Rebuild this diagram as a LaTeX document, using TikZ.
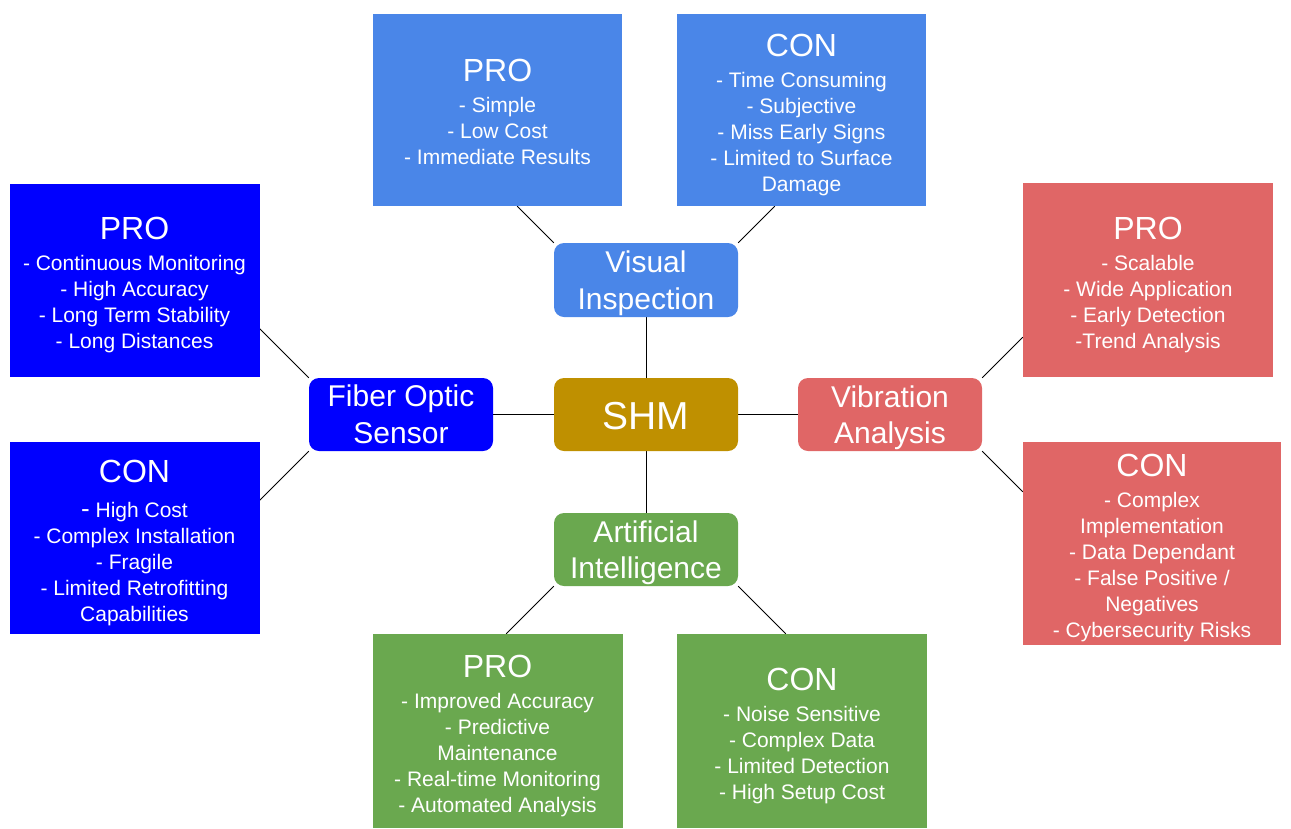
\documentclass[tikz,border=0pt]{standalone}
\usepackage{fontspec}
\setmainfont{Liberation Sans}
\usetikzlibrary{calc,backgrounds}
\definecolor{visblue}{HTML}{4A86E8}
\definecolor{fibblue}{HTML}{0000FF}
\definecolor{vibred}{HTML}{E06666}
\definecolor{aigreen}{HTML}{6AA84F}
\definecolor{shmgold}{HTML}{BF9000}
\newcommand\ttl[2][32pt]{{\fontsize{32}{32}\selectfont\rule{0pt}{#1}#2}}
\newcommand\hs{\rule{0pt}{28pt}}
\tikzset{
  box/.style={rectangle, inner sep=0pt, text=white, align=center,
    font=\fontsize{21}{26}\selectfont},
  hub/.style={rectangle, rounded corners=10pt, inner sep=0pt, text=white,
    align=center, minimum width=184pt, minimum height=73pt,
    font=\fontsize{30}{36.5}\selectfont},
  link/.style={draw=black, line width=0.8pt}
}
\begin{document}
\begin{tikzpicture}[x=1pt,y=-1pt]
\useasboundingbox (0,0) rectangle (1291,828);
% hubs
\node[hub, fill=shmgold, font=\fontsize{39}{39}\selectfont] (shm) at (646,414.5) {\rule{0pt}{30pt}SHM};
\node[hub, fill=visblue, minimum height=74pt] (vis) at (646,280) {\hs Visual\\Inspection};
\node[hub, fill=fibblue] (fos) at (401,414.5) {Fiber Optic\\Sensor};
\node[hub, fill=vibred] (vib) at (890,414.5) {\hs Vibration\\Analysis};
\node[hub, fill=aigreen] (ai) at (646,549.5) {\hs Artificial\\Intelligence};
% boxes
\node[box, fill=visblue, minimum width=249pt, minimum height=192pt] (vpro) at (497.5,110)
  {\ttl[26pt]{PRO}\\[4.5pt] - Simple\\ - Low Cost\\ - Immediate Results};
\node[box, fill=visblue, minimum width=249pt, minimum height=192pt] (vcon) at (801.5,110)
  {\ttl{CON}\\[4.5pt] - Time Consuming\\ - Subjective\\ - Miss Early Signs\\ - Limited to Surface\\ Damage};
\node[box, fill=fibblue, minimum width=250pt, minimum height=193pt] (fpro) at (134.5,280)
  {\ttl{PRO}\\[4.5pt] - Continuous Monitoring\\ - High Accuracy\\ - Long Term Stability\\ - Long Distances};
\node[box, fill=fibblue, minimum width=250pt, minimum height=192pt] (fcon) at (134.5,538)
  {\ttl{CON}\\[9pt] {\fontsize{26}{26}\selectfont -} High Cost\\ - Complex Installation\\ - Fragile\\ - Limited Retrofitting\\ Capabilities};
\node[box, fill=vibred, minimum width=250pt, minimum height=194pt] (bpro) at (1148,280)
  {\ttl{PRO}\\[4.5pt] - Scalable\\ - Wide Application\\ - Early Detection\\ -Trend Analysis};
\node[box, fill=vibred, minimum width=258pt, minimum height=203pt] (bcon) at (1152,543)
  {\ttl{CON}\\[4.5pt] - Complex\\ Implementation\\ - Data Dependant\\ - False Positive /\\ Negatives\\ - Cybersecurity Risks};
\node[box, fill=aigreen, minimum width=250pt, minimum height=194pt] (apro) at (497.5,731)
  {\ttl{PRO}\\[4.5pt] - Improved Accuracy\\ - Predictive\\ Maintenance\\ - Real-time Monitoring\\ - Automated Analysis};
\node[box, fill=aigreen, minimum width=250pt, minimum height=194pt] (acon) at (802,731)
  {\ttl{CON}\\[4.5pt] - Noise Sensitive\\ - Complex Data\\ - Limited Detection\\ - High Setup Cost};
% connectors
\begin{scope}[on background layer]
\draw[link] (vis.south) -- (shm.north);
\draw[link] (shm.south) -- (ai.north);
\draw[link] (fos.east) -- (shm.west);
\draw[link] (shm.east) -- (vib.west);
\draw[link] let \p1=(vis.north west), \p2=(vpro.south) in (\p1) -- (\x1-\y2+\y1,\y2);
\draw[link] let \p1=(vis.north east), \p2=(vcon.south) in (\p1) -- (\x1+\y2-\y1,\y2);
\draw[link] let \p1=(fos.north west), \p2=(fpro.east) in (\p1) -- (\x2,\y1+\x1-\x2);
\draw[link] let \p1=(fos.south west), \p2=(fcon.east) in (\p1) -- (\x2,\y1-\x1+\x2);
\draw[link] let \p1=(vib.north east), \p2=(bpro.west) in (\p1) -- (\x2,\y1+\x2-\x1);
\draw[link] let \p1=(vib.south east), \p2=(bcon.west) in (\p1) -- (\x2,\y1-\x2+\x1);
\draw[link] let \p1=(ai.south west), \p2=(apro.north) in (\p1) -- (\x1+\y2-\y1,\y2);
\draw[link] let \p1=(ai.south east), \p2=(acon.north) in (\p1) -- (\x1-\y2+\y1,\y2);
\end{scope}
\end{tikzpicture}
\end{document}
